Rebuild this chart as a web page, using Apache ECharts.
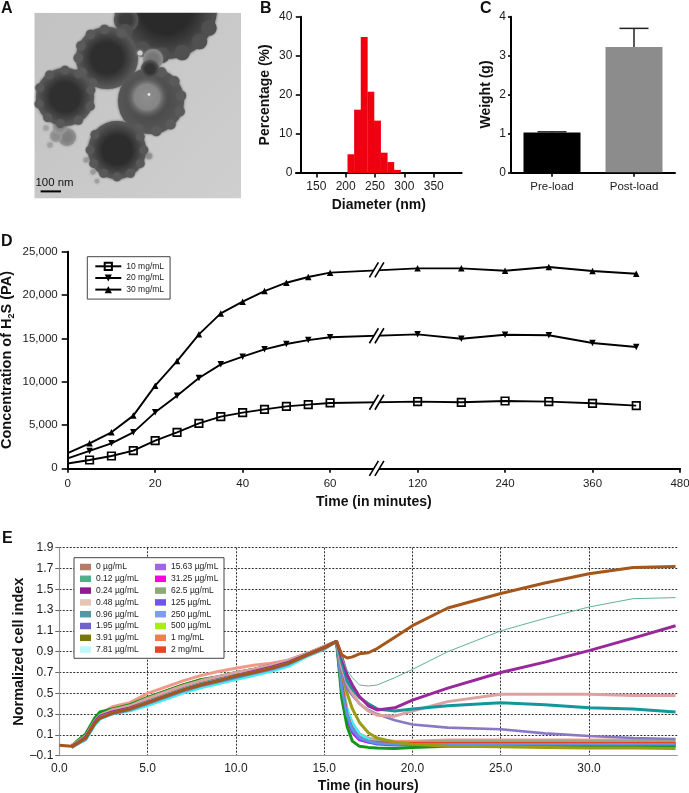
<!DOCTYPE html>
<html><head><meta charset="utf-8">
<style>html,body{margin:0;padding:0;background:#fff}#c{width:689px;height:793px}</style>
<script src="https://cdn.jsdelivr.net/npm/echarts@6/dist/echarts.min.js"></script>
</head><body><div id="c"></div>
<script>
// ---- Panel B
const diamCenters=[209,220.3,231.6,242.9,254.2,265.5,276.8,288.1];
const diamPct=[4.8,16.2,34.8,20.8,13.4,5.2,2.8,0.8];
const diamTicks=[150,200,250,300,350];
// ---- Panel C
const loadCats=['Pre-load','Post-load'];
const loadWeight=[1.02,3.22];
const loadErrTop=[1.04,3.7];
// ---- Panel D
const dTimes=[0,5,10,15,20,25,30,35,40,45,50,55,60,120,180,240,300,360,420];
const d10=[550,960,1420,2040,3190,4150,5190,5960,6420,6800,7150,7350,7540,7690,7620,7770,7690,7500,7230];
const d20=[1150,2000,2880,4150,6460,8380,10420,12000,12880,13730,14350,14800,15120,15460,14960,15420,15350,14460,14000];
const d30=[1750,2880,4150,6080,9540,12380,15460,17880,19230,20460,21420,22080,22580,23080,23080,22800,23230,22770,22460];
const dTickLabels={0:'0',20:'20',40:'40',60:'60',80:'120',100:'240',120:'360',140:'480'};
const dBreakLevels=[0,7620,15300,22900];
// ---- Panel E
const hours=[0,0.7,1,1.5,2,2.3,3,4,5,6,7,8,9,10,11,12,13,14,15,15.7,16,16.3,16.6,17,17.5,18,19,20,22,25,27.5,30,32.5,34.9];
const e0=[0,-0.01,0.02,0.07,0.21,0.26,0.31,0.35,0.41,0.47,0.53,0.58,0.62,0.67,0.70,0.74,0.79,0.87,0.94,1.0,0.87,0.84,0.85,0.88,0.89,0.93,1.04,1.15,1.32,1.46,1.56,1.65,1.71,1.72];
const e012=[null,-0.01,0.03,0.08,0.22,0.28,0.32,0.36,0.43,0.49,0.55,0.60,0.64,0.68,0.71,0.75,0.80,0.87,0.94,1.0,0.85,0.72,0.65,0.58,0.57,0.58,0.65,0.73,0.90,1.10,1.22,1.33,1.41,1.42];
const e024=[null,-0.01,0.02,0.08,0.22,0.28,0.32,0.36,0.42,0.48,0.54,0.59,0.63,0.67,0.71,0.75,0.80,0.87,0.94,1.0,0.85,0.68,0.58,0.47,0.38,0.34,0.36,0.435,0.55,0.70,0.80,0.91,1.03,1.15];
const e048=[null,0,0.03,0.09,0.23,0.29,0.34,0.38,0.45,0.51,0.57,0.62,0.66,0.70,0.73,0.77,0.82,0.88,0.95,1.0,0.75,0.60,0.50,0.40,0.33,0.29,0.28,0.33,0.42,0.49,0.49,0.49,0.48,0.48];
const e096=[null,-0.01,0.02,0.07,0.21,0.27,0.31,0.35,0.41,0.47,0.53,0.58,0.62,0.66,0.70,0.74,0.79,0.87,0.94,1.0,0.80,0.62,0.54,0.46,0.40,0.35,0.33,0.35,0.38,0.41,0.39,0.36,0.35,0.32];
const e195=[null,-0.02,0.01,0.06,0.20,0.26,0.30,0.34,0.40,0.46,0.52,0.57,0.61,0.65,0.69,0.73,0.78,0.86,0.93,1.0,0.70,0.55,0.48,0.40,0.34,0.30,0.24,0.20,0.17,0.155,0.115,0.09,0.07,0.06];
const e391=[null,-0.02,0.01,0.07,0.21,0.27,0.31,0.35,0.41,0.47,0.53,0.58,0.62,0.66,0.70,0.74,0.79,0.86,0.93,1.0,0.70,0.50,0.35,0.22,0.12,0.07,0.03,0.01,-0.01,-0.015,-0.02,-0.025,-0.025,-0.03];
const e781=[null,-0.02,0.01,0.05,0.19,0.25,0.30,0.33,0.38,0.44,0.50,0.55,0.59,0.63,0.67,0.71,0.76,0.85,0.92,1.0,0.60,0.35,0.22,0.11,0.06,0.03,0.01,0.0,-0.01,-0.01,-0.01,-0.01,-0.01,-0.01];
const e1563=[null,-0.01,0.02,0.07,0.21,0.27,0.31,0.35,0.41,0.47,0.53,0.58,0.62,0.66,0.70,0.74,0.79,0.87,0.94,1.0,0.55,0.30,0.17,0.09,0.05,0.03,0.02,0.02,0.02,0.02,0.02,0.02,0.02,0.02];
const e3125=[null,-0.01,0.02,0.08,0.22,0.28,0.32,0.36,0.42,0.48,0.54,0.59,0.63,0.67,0.71,0.75,0.80,0.87,0.94,1.0,0.50,0.25,0.12,0.05,0.03,0.02,0.02,0.01,0.01,0.01,0.01,0.01,0.01,0.01];
const e625=[null,-0.01,0.03,0.09,0.23,0.29,0.33,0.37,0.44,0.50,0.56,0.61,0.65,0.69,0.73,0.77,0.82,0.88,0.95,1.0,0.58,0.33,0.19,0.10,0.06,0.04,0.03,0.03,0.04,0.04,0.04,0.04,0.04,0.04];
const e125=[null,-0.01,0.02,0.07,0.21,0.27,0.31,0.35,0.41,0.47,0.53,0.58,0.62,0.66,0.70,0.74,0.79,0.87,0.94,1.0,0.52,0.27,0.13,0.06,0.03,0.01,0.0,0.0,0.0,0.0,0.0,0.0,0.0,0.0];
const e250=[null,-0.01,0.02,0.08,0.22,0.28,0.32,0.36,0.42,0.48,0.54,0.59,0.63,0.67,0.71,0.75,0.80,0.87,0.94,1.0,0.54,0.29,0.15,0.07,0.04,0.02,0.01,0.01,0.01,0.01,0.01,0.01,0.01,0.01];
const e500=[null,-0.01,0.04,0.11,0.26,0.32,0.35,0.39,0.46,0.52,0.58,0.63,0.66,0.70,0.73,0.77,0.81,0.87,0.94,1.0,0.45,0.18,0.04,-0.01,-0.02,-0.025,-0.03,-0.02,-0.01,-0.01,-0.01,-0.01,-0.01,-0.01];
const e1mg=[null,0,0.03,0.08,0.23,0.30,0.37,0.41,0.50,0.56,0.62,0.67,0.71,0.74,0.77,0.79,0.82,0.88,0.95,1.0,0.62,0.34,0.20,0.11,0.07,0.05,0.04,0.04,0.05,0.05,0.05,0.05,0.05,0.05];
const e2mg=[null,-0.01,0.03,0.09,0.23,0.29,0.33,0.38,0.46,0.52,0.58,0.63,0.66,0.70,0.73,0.76,0.81,0.88,0.95,1.0,0.60,0.30,0.15,0.07,0.04,0.03,0.02,0.02,0.02,0.02,0.02,0.02,0.02,0.02];
const eYTicks=[-0.1,0.1,0.3,0.5,0.7,0.9,1.1,1.3,1.5,1.7,1.9];

const FONT='"Liberation Sans",Arial,sans-serif';
const TXT='#1c1c1c';
const eDefs=[
 ['1 mg/mL',e1mg,'#f2988a','#ef7d52',3],
 ['62.5 µg/mL',e625,'#97a884','#8fa878',2.6],
 ['15.63 µg/mL',e1563,'#a565e6','#a264e8',2.6],
 ['31.25 µg/mL',e3125,'#f000dc','#ff00e6',2.6],
 ['7.81 µg/mL',e781,'#3ff0f0','#bdf9f9',2.6],
 ['2 mg/mL',e2mg,'#e8402a','#e8442a',2.6],
 ['125 µg/mL',e125,'#6a50f0','#6f55f0',2.6],
 ['500 µg/mL',e500,'#12961c','#a9ee12',3],
 ['250 µg/mL',e250,'#5f93e8','#7f9cf5',2.6],
 ['3.91 µg/mL',e391,'#9c9c12','#77770f',3],
 ['1.95 µg/mL',e195,'#8a78c4','#6f62cc',2.6],
 ['0.48 µg/mL',e048,'#dca2a2','#e5c6b2',3],
 ['0.96 µg/mL',e096,'#12989c','#4f9aa4',3],
 ['0.24 µg/mL',e024,'#99289a','#8f1c8f',3],
 ['0.12 µg/mL',e012,'#62b296','#4fb189',1],
 ['0 µg/mL',e0,'#a5561b','#b57a6a',3]
];
const eLegendA=['0 µg/mL','0.12 µg/mL','0.24 µg/mL','0.48 µg/mL','0.96 µg/mL','1.95 µg/mL','3.91 µg/mL','7.81 µg/mL'];
const eLegendB=['15.63 µg/mL','31.25 µg/mL','62.5 µg/mL','125 µg/mL','250 µg/mL','500 µg/mL','1 mg/mL','2 mg/mL'];
const legendColor=n=>eDefs.find(d=>d[0]===n)[3];

const dScale=t=>t<=60?t:60+t/6;

const grids=[
 {left:296,right:227.4,top:16.7,height:156.3,outerBoundsMode:'none'},
 {left:511,right:14,top:16.7,height:155.6,outerBoundsMode:'none'},
 {left:67.7,right:9,top:251.7,height:216.6,outerBoundsMode:'none'},
 {left:59.3,right:11.7,top:547.7,height:208,outerBoundsMode:'none'}
];
const blackAxis={nameMoveOverlap:false,axisLine:{show:true,onZero:false,lineStyle:{color:'#000',width:2}},axisTick:{show:true,length:4.5,lineStyle:{color:'#000',width:1.6}},splitLine:{show:false}};
const lab=(s)=>({color:TXT,fontFamily:FONT,fontSize:s});
const nameS={color:'#111',fontFamily:FONT,fontWeight:'bold',fontSize:14};

const xAxes=[
 Object.assign({type:'value',gridIndex:0,min:115.4,max:397.5,name:'Diameter (nm)',nameLocation:'middle',nameGap:25,nameTextStyle:nameS},blackAxis,{
   axisTick:Object.assign({},blackAxis.axisTick,{customValues:diamTicks}),
   axisLabel:Object.assign(lab(12),{customValues:diamTicks,margin:8})}),
 Object.assign({type:'category',gridIndex:1,data:loadCats,axisLabel:Object.assign(lab(11.5),{margin:9})},blackAxis,{axisTick:{show:true,alignWithLabel:true,length:4.5,lineStyle:{color:'#000',width:1.6}}}),
 Object.assign({type:'value',gridIndex:2,min:0,max:140,interval:20,name:'Time (in minutes)',nameLocation:'middle',nameGap:27,nameTextStyle:nameS},blackAxis,{
   axisLabel:Object.assign(lab(11.5),{margin:10,formatter:v=>dTickLabels[v]||''})}),
 {type:'value',gridIndex:3,min:0,max:35,interval:5,nameMoveOverlap:false,name:'Time (in hours)',nameLocation:'middle',nameGap:23,nameTextStyle:nameS,
   axisLine:{onZero:false,lineStyle:{color:'#999',width:1.2}},axisTick:{show:false},
   axisLabel:Object.assign(lab(12),{margin:7,formatter:v=>v>=35?'':v.toFixed(1)}),
   splitLine:{show:true,showMinLine:false,showMaxLine:false,lineStyle:{color:'#333',type:[2,1.5],width:1}}}
];
const yAxes=[
 Object.assign({type:'value',gridIndex:0,min:0,max:40,interval:10,offset:-4.8,name:'Percentage (%)',nameLocation:'middle',nameGap:29,nameTextStyle:nameS,axisLabel:Object.assign(lab(12),{margin:8.5})},blackAxis,{axisTick:{show:true,length:5,lineStyle:{color:'#000',width:1.6}}}),
 Object.assign({type:'value',gridIndex:1,min:0,max:4,interval:1,name:'Weight (g)',nameLocation:'middle',nameGap:18,nameTextStyle:nameS,axisLabel:Object.assign(lab(12),{margin:5})},blackAxis,{axisTick:{show:true,length:3,lineStyle:{color:'#000',width:1.6}}}),
 Object.assign({type:'value',gridIndex:2,min:0,max:25000,interval:5000,name:'Concentration of H{s|2}S (PA)',nameLocation:'middle',nameGap:52,
   nameTextStyle:Object.assign({},nameS,{fontSize:14.5,rich:{s:{fontFamily:FONT,fontWeight:'bold',fontSize:9,verticalAlign:'bottom',padding:[8,0,0,0]}}}),
   axisLabel:Object.assign(lab(11.5),{margin:10,formatter:v=>v.toLocaleString('en-US')})},blackAxis,{axisTick:{show:true,length:6,lineStyle:{color:'#000',width:1.6}}}),
 {type:'value',gridIndex:3,min:-0.1,max:1.9,nameMoveOverlap:false,name:'Normalized cell index',nameLocation:'middle',nameGap:33,nameTextStyle:Object.assign({},nameS,{fontSize:14.5}),
   axisLine:{show:true,onZero:false,lineStyle:{color:'#999',width:1.2}},
   axisTick:{show:true,length:4,customValues:eYTicks,lineStyle:{color:'#666'}},
   axisLabel:Object.assign(lab(12),{margin:6,customValues:eYTicks,formatter:v=>v<0?'–'+Math.abs(v).toFixed(1):v.toFixed(1)}),
   splitLine:{show:true,showMinLine:false,lineStyle:{color:'#333',type:[2,1.5],width:1}}}
];

const series=[];
series.push({type:'bar',name:'Diameter',xAxisIndex:0,yAxisIndex:0,barWidth:6.9,itemStyle:{color:'#ee0011'},z:1,
  data:diamCenters.map((c,i)=>[c,diamPct[i]])});
series.push({type:'bar',name:'Weight',xAxisIndex:1,yAxisIndex:1,barWidth:57,z:1,
  data:loadWeight.map((v,i)=>({value:v,itemStyle:{color:i?'#8c8c8c':'#000'}}))});
series.push({type:'custom',name:'Weight error',xAxisIndex:1,yAxisIndex:1,z:3,clip:false,
  data:loadWeight.map((v,i)=>[i,v,loadErrTop[i]]),
  renderItem:(p,api)=>{const a=api.coord([api.value(0),api.value(1)]),b=api.coord([api.value(0),api.value(2)]);
    const st={stroke:'#222',lineWidth:1.5,fill:null};
    return {type:'group',children:[
      {type:'line',shape:{x1:a[0],y1:a[1],x2:b[0],y2:b[1]},style:st},
      {type:'line',shape:{x1:b[0]-14.5,y1:b[1],x2:b[0]+14.5,y2:b[1]},style:st}]};}});
const dSer=(name,vals,symbol,rot,size,fill)=>({type:'line',name,xAxisIndex:2,yAxisIndex:2,z:3,
  data:dTimes.map((t,i)=>[dScale(t),vals[i]]),
  symbol,symbolRotate:rot,symbolSize:(v,p)=>p.dataIndex===0?0:size,showSymbol:true,
  lineStyle:{color:'#000',width:1.9},
  itemStyle:{color:fill,borderColor:'#000',borderWidth:fill==='#000'?0:1.7}});
series.push(dSer('10 mg/mL',d10,'rect',0,7.5,'rgba(255,255,255,0)'));
series.push(dSer('20 mg/mL',d20,'triangle',180,6.5,'#000'));
series.push(dSer('30 mg/mL',d30,'triangle',0,6.5,'#000'));
series.push({type:'custom',name:'axis break',xAxisIndex:2,yAxisIndex:2,z:5,clip:false,
  data:dBreakLevels.map(v=>[70.7,v]),
  renderItem:(p,api)=>{const c=api.coord([api.value(0),api.value(1)]),x=c[0],y=c[1];
    const ls={stroke:'#000',lineWidth:1.6,fill:null};
    return {type:'group',children:[
      {type:'polygon',shape:{points:[[x-7,y+7.5],[x-2,y+7.5],[x+7,y-7.5],[x+2,y-7.5]]},style:{fill:'#fff'}},
      {type:'line',shape:{x1:x-7.5,y1:y+7.5,x2:x+1.5,y2:y-7.5},style:ls},
      {type:'line',shape:{x1:x-2,y1:y+7.5,x2:x+7,y2:y-7.5},style:ls}]};}});
eDefs.forEach(d=>series.push({type:'line',name:d[0],xAxisIndex:3,yAxisIndex:3,z:3,
  showSymbol:false,symbol:'none',
  data:hours.map((h,i)=>[h,d[1][i]]),
  lineStyle:{color:d[2],width:d[4]},itemStyle:{color:d[3]}}));

const eLegendBase={orient:'vertical',icon:'rect',itemWidth:11,itemHeight:6.5,itemGap:2.8,padding:0,z:6,
  textStyle:{color:TXT,fontFamily:FONT,fontSize:8.5,padding:[0,0,0,0]},selectedMode:false};
const legends=[
 {data:['10 mg/mL','20 mg/mL','30 mg/mL'],orient:'vertical',left:87.3,top:256.7,itemWidth:26,itemHeight:9,itemGap:2.6,itemSymbolGap:5,
  padding:[5,6,5,7],borderColor:'#444',borderWidth:1,backgroundColor:'#fff',selectedMode:false,z:6,
  textStyle:{color:TXT,fontFamily:FONT,fontSize:8.5}},
 Object.assign({},eLegendBase,{left:80,top:562.5,data:eLegendA.map(n=>({name:n,itemStyle:{color:legendColor(n)}}))}),
 Object.assign({},eLegendBase,{left:155,top:562.5,data:eLegendB.map(n=>({name:n,itemStyle:{color:legendColor(n)}}))})
];

// ---- Panel A: electron micrograph, painted with soft shapes
const core=(dark,edge)=>({type:'radial',x:.5,y:.5,r:.5,colorStops:[{offset:0,color:dark},{offset:.5,color:dark},{offset:.95,color:edge},{offset:1,color:edge}]});
const blob=(x,y,r,dark,edge)=>({type:'circle',z:1,shape:{cx:x,cy:y,r},style:{fill:core(dark,edge),shadowBlur:3,shadowColor:edge}});
const bump=(x,y,r,edge)=>({type:'circle',z:1,shape:{cx:x,cy:y,r},style:{fill:edge,shadowBlur:2,shadowColor:edge}});
const bumps=(x,y,r,angles,edge)=>angles.map(a=>bump(x+.93*r*Math.cos(a*Math.PI/180),y+.93*r*Math.sin(a*Math.PI/180),r*.15,edge));
const photo=[
 {type:'rect',z:1,shape:{x:34.5,y:12.7,width:206.5,height:185.5},style:{fill:{type:'linear',x:0,y:0,x2:1,y2:1,colorStops:[{offset:0,color:'#c2c2c2'},{offset:1,color:'#cfcfcf'}]}}},
 blob(67,137,9,'#7f7f7f','#909090'),blob(56,136,6,'#8d8d8d','#9a9a9a'),blob(50,145,3,'#a0a0a0','#aaa'),blob(46,128,3,'#a2a2a2','#ababab'),blob(60,127,7,'#8a8a8a','#999'),
 blob(93,172,3,'#9a9a9a','#aaa'),blob(86,160,3,'#999','#aaa'),blob(149,156,3.5,'#8f8f8f','#a0a0a0'),blob(97,181,2.5,'#9d9d9d','#aaa'),
 blob(166,8,51,'#2a2a2a','#4f4f4f'),blob(126,20,12,'#3c3c3c','#575757'),
 ...bumps(166,8,51,[25,45,70,95,120,150],'#505050'),
 blob(107,58,31,'#2e2e2e','#585858'),...bumps(107,58,31,[120,150,180,205,235,265,300],'#5a5a5a'),
 blob(65,97,29,'#2f2f2f','#575757'),...bumps(65,97,29,[100,130,165,200,235,270,300,345,20,60],'#595959'),
 blob(110,142,11,'#6a6a6a','#7c7c7c'),
 blob(151,101,33,'#4c4c4c','#565656'),...bumps(151,101,33,[-70,-40,-10,20,50,80,115],'#5a5a5a'),
 {type:'circle',z:1,shape:{cx:147,cy:97,r:21},style:{fill:{type:'radial',x:.5,y:.5,r:.5,colorStops:[{offset:0,color:'#8e8e8e'},{offset:.6,color:'#858585'},{offset:1,color:'rgba(85,85,85,0.2)'}]}}},
 {type:'circle',z:1,shape:{cx:149,cy:94.5,r:1.4},style:{fill:'#e8e8e8'}},
 blob(153,59,10,'#777','#8a8a8a'),blob(150,69,9,'#333','#555'),blob(140,53,2.5,'#d0d0d0','#d0d0d0'),
 blob(117,150,29,'#2c2c2c','#565656'),...bumps(117,150,29,[0,30,60,90,120,150,180,215,-30],'#585858'),
 {type:'rect',z:1,shape:{x:20,y:0,width:240,height:12.7},style:{fill:'#fff'}},
 {type:'rect',z:1,shape:{x:241,y:0,width:10,height:70},style:{fill:'#fff'}},
 {type:'rect',z:1,shape:{x:40.6,y:190.4,width:20.4,height:2},style:{fill:'#000'}},
 {type:'text',z:2,style:{x:35.5,y:182.7,text:'100 nm',fill:'#111',font:'11.4px '+FONT,textVerticalAlign:'middle'}}
];
const letter=(t,x,y)=>({type:'text',z:7,style:{x,y,text:t,fill:'#111',font:'bold 16px '+FONT,textVerticalAlign:'middle'}});

const option={
 animation:false,backgroundColor:'#fff',
 grid:grids,xAxis:xAxes,yAxis:yAxes,series,legend:legends,
 graphic:{elements:[...photo,
   letter('A',1,8.5),letter('B',260,8.5),letter('C',480,8.5),letter('D',1,241.7),letter('E',2,538.5),
   {type:'rect',z:5,shape:{x:74,y:557.7,width:150,height:100.6},style:{fill:'#fff',stroke:'#444',lineWidth:1}}
 ]}
};
const chart=echarts.init(document.getElementById('c'),null,{renderer:'canvas',width:689,height:793});
chart.setOption(option);
</script></body></html>
